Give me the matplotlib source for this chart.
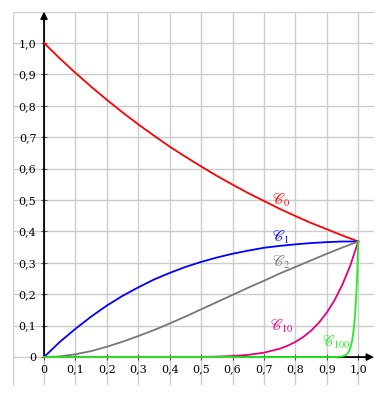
import matplotlib
matplotlib.use('Agg')
import matplotlib.pyplot as plt

# values
x_main = [0.0, 0.05, 0.1, 0.15, 0.2, 0.25, 0.3, 0.35, 0.4, 0.45, 0.5,
          0.55, 0.6, 0.65, 0.7, 0.75, 0.8, 0.85, 0.9, 0.95, 1.0]
c0 = [1.000, 0.951, 0.905, 0.861, 0.819, 0.779, 0.741, 0.705, 0.670, 0.638, 0.607,
      0.577, 0.549, 0.522, 0.497, 0.472, 0.449, 0.427, 0.407, 0.387, 0.368]
c1 = [0.000, 0.048, 0.090, 0.129, 0.164, 0.195, 0.222, 0.247, 0.268, 0.287, 0.303,
      0.317, 0.329, 0.339, 0.348, 0.354, 0.359, 0.363, 0.366, 0.368, 0.368]
c2 = [0.000, 0.002, 0.009, 0.019, 0.033, 0.049, 0.067, 0.086, 0.107, 0.129, 0.152,
      0.175, 0.198, 0.221, 0.243, 0.266, 0.287, 0.308, 0.329, 0.349, 0.368]

x_c10 = [0.0, 0.3, 0.4, 0.5, 0.55, 0.6, 0.65, 0.7, 0.75, 0.775, 0.8, 0.825,
         0.85, 0.875, 0.9, 0.925, 0.95, 0.975, 1.0]
c10 = [0.0, 0.0, 0.0001, 0.0006, 0.0015, 0.0033, 0.0070, 0.0140, 0.0266, 0.0362,
       0.0482, 0.0640, 0.0841, 0.1097, 0.1419, 0.1818, 0.2317, 0.2928, 0.368]

x_c100 = [0.0, 0.9, 0.93, 0.95, 0.96, 0.965, 0.97, 0.975, 0.98, 0.985,
          0.99, 0.995, 0.9975, 1.0]
c100 = [0.0, 0.0, 0.0003, 0.0023, 0.0065, 0.0108, 0.0180, 0.0300, 0.0497, 0.0824,
        0.136, 0.224, 0.287, 0.368]

ticks = [0.0, 0.1, 0.2, 0.3, 0.4, 0.5, 0.6, 0.7, 0.8, 0.9, 1.0]
xtick_labels = ['0', '0,1', '0,2', '0,3', '0,4', '0,5', '0,6', '0,7', '0,8', '0,9', '1,0']
ytick_labels = ['0', '0,1', '0,2', '0,3', '0,4', '0,5', '0,6', '0,7', '0,8', '0,9', '1,0']

curve_labels = [r'$\mathscr{C}_0$', r'$\mathscr{C}_1$', r'$\mathscr{C}_2$',
                r'$\mathscr{C}_{10}$', r'$\mathscr{C}_{100}$']
label_pos = [(0.725, 0.50), (0.725, 0.382), (0.725, 0.30), (0.72, 0.096), (0.885, 0.048)]
colors = ['#ff0000', '#0000ff', '#777777', '#e6007e', '#22ee22']

plt.rcParams['mathtext.fontset'] = 'stix'
plt.rcParams['font.family'] = 'DejaVu Serif'

fig = plt.figure(figsize=(3.82, 3.94), dpi=100)
ax = fig.add_axes([0.033, 0.022, 0.946, 0.9485])
ax.set_xlim(-0.1, 1.05)
ax.set_ylim(-0.09, 1.1)

# grid
for t in [-0.1] + ticks:
    ax.axvline(t, color='#cccccc', lw=1.0, zorder=0)
for t in ticks + [1.1]:
    ax.axhline(t, color='#cccccc', lw=1.0, zorder=0)

# axes through origin, drawn as arrows
for s in ['top', 'right', 'left', 'bottom']:
    ax.spines[s].set_visible(False)
ax.spines['left'].set_position(('data', 0))
ax.spines['bottom'].set_position(('data', 0))
ax.annotate('', xy=(1.05, 0), xytext=(0, 0),
            arrowprops=dict(arrowstyle='-|>', color='black', lw=1.3,
                            mutation_scale=10, shrinkA=0, shrinkB=0), zorder=2)
ax.annotate('', xy=(0, 1.1), xytext=(0, 0),
            arrowprops=dict(arrowstyle='-|>', color='black', lw=1.3,
                            mutation_scale=10, shrinkA=0, shrinkB=0), zorder=2)

ax.set_xticks(ticks)
ax.set_xticklabels(xtick_labels)
ax.set_yticks(ticks)
ax.set_yticklabels(ytick_labels)
ax.tick_params(axis='both', direction='inout', length=5, width=0.8,
               color='#555555', labelsize=8, pad=3)

ax.plot(x_main, c0, color=colors[0], lw=1.3, zorder=3)
ax.plot(x_main, c1, color=colors[1], lw=1.3, zorder=3)
ax.plot(x_main, c2, color=colors[2], lw=1.3, zorder=3)
ax.plot(x_c10, c10, color=colors[3], lw=1.3, zorder=3)
ax.plot(x_c100, c100, color=colors[4], lw=1.3, zorder=4)

for lab, (px, py), c in zip(curve_labels, label_pos, colors):
    ax.text(px, py, lab, color=c, fontsize=10.5, ha='left', va='center')

fig.savefig('out.png', dpi=100)
